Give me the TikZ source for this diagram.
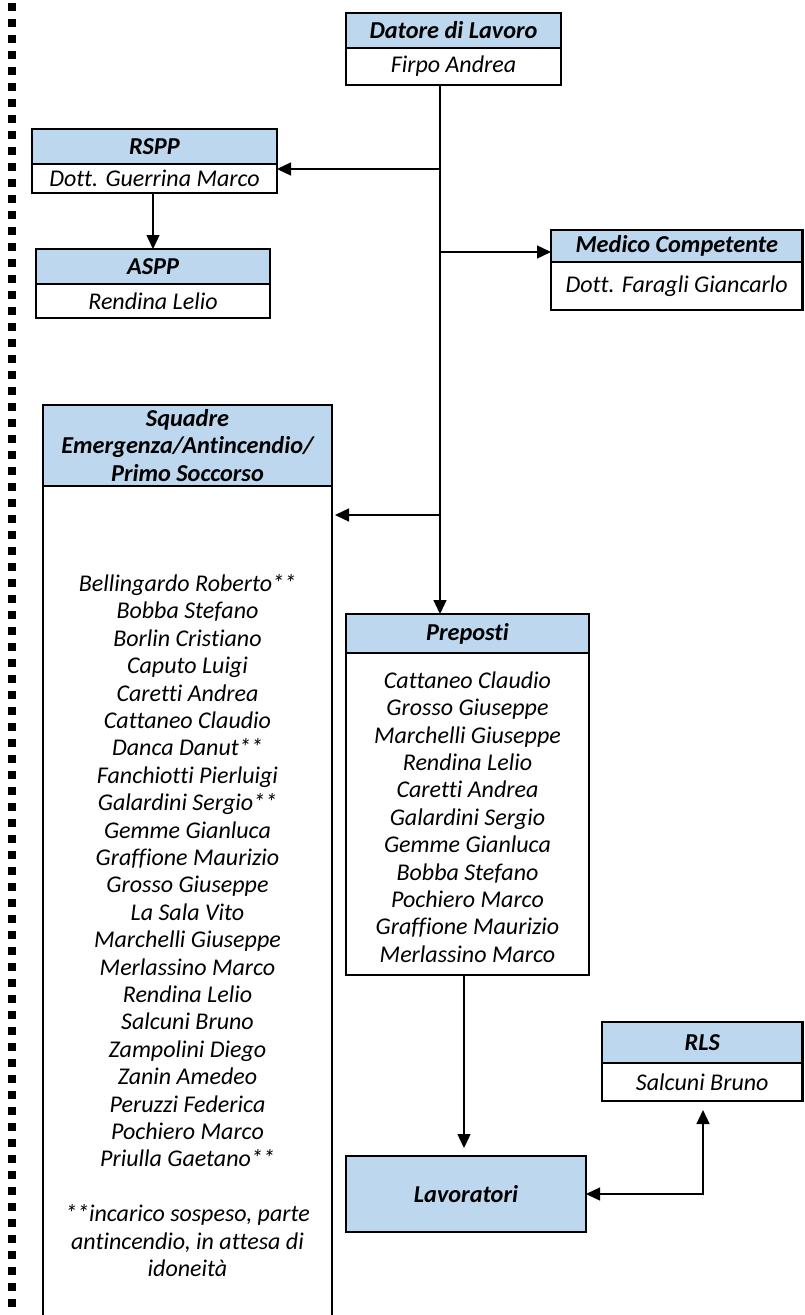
\documentclass[tikz,border=0pt]{standalone}
\usepackage{fontspec}
\setmainfont{Carlito}[Ligatures={NoCommon,NoContextual}]
\usetikzlibrary{arrows.meta}
\definecolor{hblue}{RGB}{189,215,238}
\begin{document}
\begin{tikzpicture}[x=1pt,y=-1pt,
 box/.style={draw, line width=2.6pt, inner sep=0pt, outer sep=0pt, align=center},
 hdr/.style={box, fill=hblue, font=\fontsize{24.3}{27.4}\selectfont\bfseries\itshape},
 bdy/.style={box, fill=white, font=\fontsize{24}{27.4}\selectfont\itshape},
 txt/.style={inner sep=0pt, font=\fontsize{24}{27.4}\selectfont\itshape, align=center},
 conn/.style={line width=1.3pt, -{Triangle[length=14pt,width=13pt]}},
 conn2/.style={line width=1.3pt, {Triangle[length=14pt,width=13pt]}-{Triangle[length=14pt,width=13pt]}},
]
\useasboundingbox (0,0) rectangle (804,1315);
% dotted left border
\draw[line width=8pt, dash pattern=on 8pt off 8pt] (11.5,3) -- (11.5,1320);

% Datore di Lavoro
\node[hdr, minimum width=215pt, minimum height=35pt] (datH) at (453.5,30.5) {Datore di Lavoro};
\node[bdy, minimum width=215pt, minimum height=37pt] (datB) at (453.5,66.5) {Firpo Andrea};

% RSPP
\node[hdr, minimum width=245pt, minimum height=35pt] (rsppH) at (154.5,146.5) {RSPP};
\node[bdy, minimum width=245pt, minimum height=29pt] (rsppB) at (154.5,178.5) {Dott. Guerrina Marco};

% ASPP
\node[hdr, minimum width=234pt, minimum height=35pt] (asppH) at (153,266.5) {ASPP};
\node[bdy, minimum width=234pt, minimum height=34pt] (asppB) at (153,301) {Rendina Lelio};

% Medico Competente
\node[hdr, minimum width=251.5pt, minimum height=32pt] (medH) at (676.75,246) {Medico Competente};
\node[bdy, minimum width=251.5pt, minimum height=48pt] (medB) at (676.75,286) {Dott. Faragli Giancarlo};

% Squadre
\node[hdr, minimum width=289pt, minimum height=81pt] (sqH) at (187.5,445.5) {Squadre\\Emergenza/Antincendio/\\Primo Soccorso};
\node[bdy, minimum width=289pt, minimum height=844pt] (sqB) at (187.5,908) {};
\node[txt] (sqL) at (187.5,925.5) {Bellingardo Roberto**\\Bobba Stefano\\Borlin Cristiano\\Caputo Luigi\\Caretti Andrea\\Cattaneo Claudio\\Danca Danut**\\Fanchiotti Pierluigi\\Galardini Sergio**\\Gemme Gianluca\\Graffione Maurizio\\Grosso Giuseppe\\La Sala Vito\\Marchelli Giuseppe\\Merlassino Marco\\Rendina Lelio\\Salcuni Bruno\\Zampolini Diego\\Zanin Amedeo\\Peruzzi Federica\\Pochiero Marco\\Priulla Gaetano**\\[27.4pt]**incarico sospeso, parte\\antincendio, in attesa di\\idoneità};

% Preposti
\node[hdr, minimum width=243pt, minimum height=39pt] (prepH) at (467.5,633.5) {Preposti};
\node[bdy, minimum width=243pt, minimum height=322pt] (prepB) at (467.5,814) {};
\node[txt] (prepL) at (467.5,817) {Cattaneo Claudio\\Grosso Giuseppe\\Marchelli Giuseppe\\Rendina Lelio\\Caretti Andrea\\Galardini Sergio\\Gemme Gianluca\\Bobba Stefano\\Pochiero Marco\\Graffione Maurizio\\Merlassino Marco};

% Lavoratori
\node[hdr, minimum width=240pt, minimum height=76pt] (lav) at (466,1194) {Lavoratori};

% RLS
\node[hdr, minimum width=200.5pt, minimum height=41pt] (rlsH) at (702.25,1042.5) {RLS};
\node[bdy, minimum width=200.5pt, minimum height=38pt] (rlsB) at (702.25,1082) {Salcuni Bruno};

% helper coordinates
\coordinate (tx) at (440,0);
\coordinate (xr) at (153,0);
\coordinate (xp) at (464,0);
\coordinate (xl) at (703,0);
\coordinate (yR) at (0,169);
\coordinate (yM) at (0,252);
\coordinate (yS) at (0,515);

% connectors
\draw[line width=1.3pt] (datB.south -| tx) -- (yR -| tx);
\draw[conn] (yR -| tx) -- (prepH.north -| tx);
\draw[conn] (yR -| tx) -- (yR -| rsppB.east);
\draw[conn] (yM -| tx) -- (yM -| medH.west);
\draw[conn, shorten >=3pt] (yS -| tx) -- (yS -| sqB.east);
\draw[conn] (rsppB.south -| xr) -- (asppH.north -| xr);
\draw[conn, shorten >=8pt] (prepB.south -| xp) -- (lav.north -| xp);
\draw[conn2, shorten >=9pt] (lav.east) -- (lav.east -| xl) -- (rlsB.south -| xl);
\end{tikzpicture}
\end{document}
